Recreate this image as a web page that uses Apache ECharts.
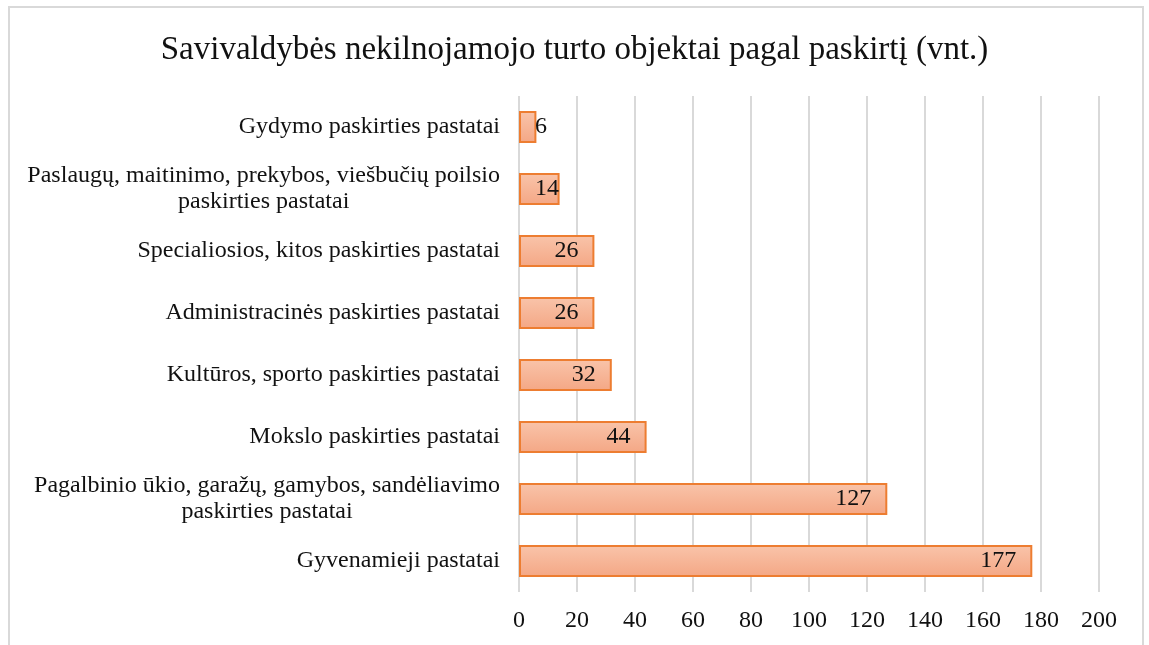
<!DOCTYPE html>
<html>
<head>
    <meta charset="utf-8">
    <title>Savivaldybės nekilnojamojo turto objektai</title>
    <script src="https://cdn.jsdelivr.net/npm/echarts@6/dist/echarts.min.js"></script>
    <style>
        html, body { margin: 0; padding: 0; background: #fff; }
        #frame { position: absolute; left: 8px; top: 6px; width: 1136px; height: 660px; border: 2px solid #d9d9d9; box-sizing: border-box; }
        #chart { width: 1149px; height: 645px; }
    </style>
</head>
<body>
<div id="frame"></div>
<div id="chart"></div>
<script>
    // duomenys (nuo apačios į viršų, kaip ašyje)
    var categories = [
        'Gyvenamieji pastatai',
        'Pagalbinio ūkio, garažų, gamybos, sandėliavimo\npaskirties pastatai',
        'Mokslo paskirties pastatai',
        'Kultūros, sporto paskirties pastatai',
        'Administracinės paskirties pastatai',
        'Specialiosios, kitos paskirties pastatai',
        'Paslaugų, maitinimo, prekybos, viešbučių poilsio\npaskirties pastatai',
        'Gydymo paskirties pastatai'
    ];
    var values = [177, 127, 44, 32, 26, 26, 14, 6];
    var xTicks = [0, 20, 40, 60, 80, 100, 120, 140, 160, 180, 200];

    var font = '"Liberation Serif", "Times New Roman", serif';

    var chart = echarts.init(document.getElementById('chart'));

    var barData = values.map(function (v) {
        var item = { value: v };
        // mažiems stulpeliams etiketė nuo pradžios
        if (v < 20) {
            item.label = { position: 'insideLeft', distance: 16 };
        }
        return item;
    });

    var option = {
        animation: false,
        title: {
            text: 'Savivaldybės nekilnojamojo turto objektai pagal paskirtį (vnt.)',
            left: 'center',
            top: 29,
            textStyle: { fontFamily: font, fontSize: 33, fontWeight: 'normal', color: '#111' }
        },
        grid: { left: 519, right: 50, top: 96, bottom: 53 },
        xAxis: {
            type: 'value',
            min: xTicks[0],
            max: xTicks[xTicks.length - 1],
            interval: 20,
            axisLine: { show: false },
            axisTick: { show: false },
            axisLabel: { fontFamily: font, fontSize: 24, color: '#111', margin: 17 },
            splitLine: { lineStyle: { color: '#d9d9d9', width: 2 } }
        },
        yAxis: {
            type: 'category',
            data: categories,
            axisLine: { show: false },
            axisTick: { show: false },
            axisLabel: {
                margin: 19,
                formatter: function (val) {
                    return val.split('\n').map(function (s) { return '{c|' + s + '}'; }).join('\n');
                },
                rich: {
                    c: { fontFamily: font, fontSize: 24, color: '#111', align: 'center', lineHeight: 26 }
                }
            }
        },
        series: [{
            type: 'bar',
            data: barData,
            barWidth: 32,
            itemStyle: {
                color: new echarts.graphic.LinearGradient(0, 0, 0, 1, [
                    { offset: 0, color: '#f9c4aa' },
                    { offset: 1, color: '#f4a785' }
                ]),
                borderColor: '#ed7d31',
                borderWidth: 2
            },
            label: {
                show: true,
                position: 'insideRight',
                distance: 16,
                fontFamily: font,
                fontSize: 24,
                color: '#111'
            }
        }]
    };
    chart.setOption(option);
</script>
</body>
</html>
